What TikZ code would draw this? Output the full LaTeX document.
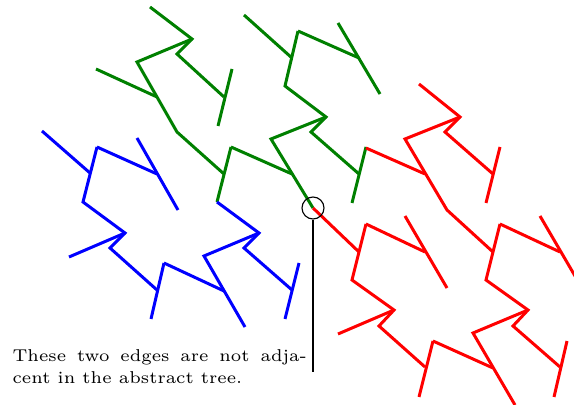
\documentclass[tikz,border=0pt]{standalone}
\usepackage{tikz}

\begin{document}
\begin{tikzpicture}[x=0.35pt, y=-0.35pt,
    branch/.style={line width=1.05pt}]

  % Frame (pixel grid, y pointing down)
  \useasboundingbox (0,0) rectangle (574,405);
  \clip (0,0) rectangle (574,405);

  % Colors of the three parts
  \colorlet{treeGreen}{green!50!black}
  \colorlet{treeBlue}{blue}
  \colorlet{treeRed}{red}

  % Green part
  \draw[branch, treeGreen] (150,7) -- (192,39) -- (177,54) -- (224,97);
  \draw[branch, treeGreen] (232,69) -- (218,126);
  \draw[branch, treeGreen] (192,39) -- (137,62) -- (177,132) -- (224,174);
  \draw[branch, treeGreen] (96,69) -- (157,97);
  \draw[branch, treeGreen] (231,147) -- (217,202);
  \draw[branch, treeGreen] (231,147) -- (292,174);
  \draw[branch, treeGreen] (244,15) -- (292,58);
  \draw[branch, treeGreen] (298,31) -- (285,86) -- (326,117) -- (311,132) -- (359,174);
  \draw[branch, treeGreen] (298,31) -- (359,58);
  \draw[branch, treeGreen] (338,23) -- (380,94);
  \draw[branch, treeGreen] (326,117) -- (271,139) -- (313,208);
  \draw[branch, treeGreen] (366,147) -- (352,203);

  % Blue part
  \draw[branch, treeBlue] (42,131) -- (90,173);
  \draw[branch, treeBlue] (97,147) -- (83,202) -- (125,233) -- (110,248) -- (157,290);
  \draw[branch, treeBlue] (97,147) -- (157,174);
  \draw[branch, treeBlue] (137,138) -- (178,210);
  \draw[branch, treeBlue] (125,233) -- (69,257);
  \draw[branch, treeBlue] (164,263) -- (151,319);
  \draw[branch, treeBlue] (164,263) -- (224,291);
  \draw[branch, treeBlue] (217,202) -- (259,233) -- (244,248) -- (292,290);
  \draw[branch, treeBlue] (259,233) -- (204,256) -- (245,327);
  \draw[branch, treeBlue] (299,263) -- (285,319);

  % Red part
  \draw[branch, treeRed] (419,84) -- (460,117) -- (445,132) -- (493,174);
  \draw[branch, treeRed] (500,147) -- (486,203);
  \draw[branch, treeRed] (460,117) -- (405,139) -- (447,210) -- (493,252);
  \draw[branch, treeRed] (366,148) -- (425,174);
  \draw[branch, treeRed] (313,208) -- (359,252);
  \draw[branch, treeRed] (366,224) -- (352,280) -- (394,310) -- (379,326) -- (425,367);
  \draw[branch, treeRed] (366,224) -- (425,252);
  \draw[branch, treeRed] (405,216) -- (447,288);
  \draw[branch, treeRed] (394,310) -- (338,334);
  \draw[branch, treeRed] (433,341) -- (419,397);
  \draw[branch, treeRed] (433,341) -- (493,368);
  \draw[branch, treeRed] (500,224) -- (486,280) -- (528,310) -- (513,326) -- (560,367);
  \draw[branch, treeRed] (500,224) -- (560,252);
  \draw[branch, treeRed] (540,216) -- (582,288);
  \draw[branch, treeRed] (528,310) -- (473,333) -- (515,405);
  \draw[branch, treeRed] (567,341) -- (554,397);

  % Circled vertex and the remark pointing at it
  \node[circle, draw, thin, minimum size=7.7pt, inner sep=0pt] (junc) at (313,208) {};
  \coordinate (foot) at (313,372);
  \draw[semithick] (junc.south) -- (foot);

  \node[anchor=north west, inner sep=0pt, text width=103pt, align=justify,
        font=\fontsize{6}{7.7}\selectfont]
    (note) at (12,349.5) {These two edges are not adja-\linebreak cent in the abstract tree.};

\end{tikzpicture}
\end{document}
